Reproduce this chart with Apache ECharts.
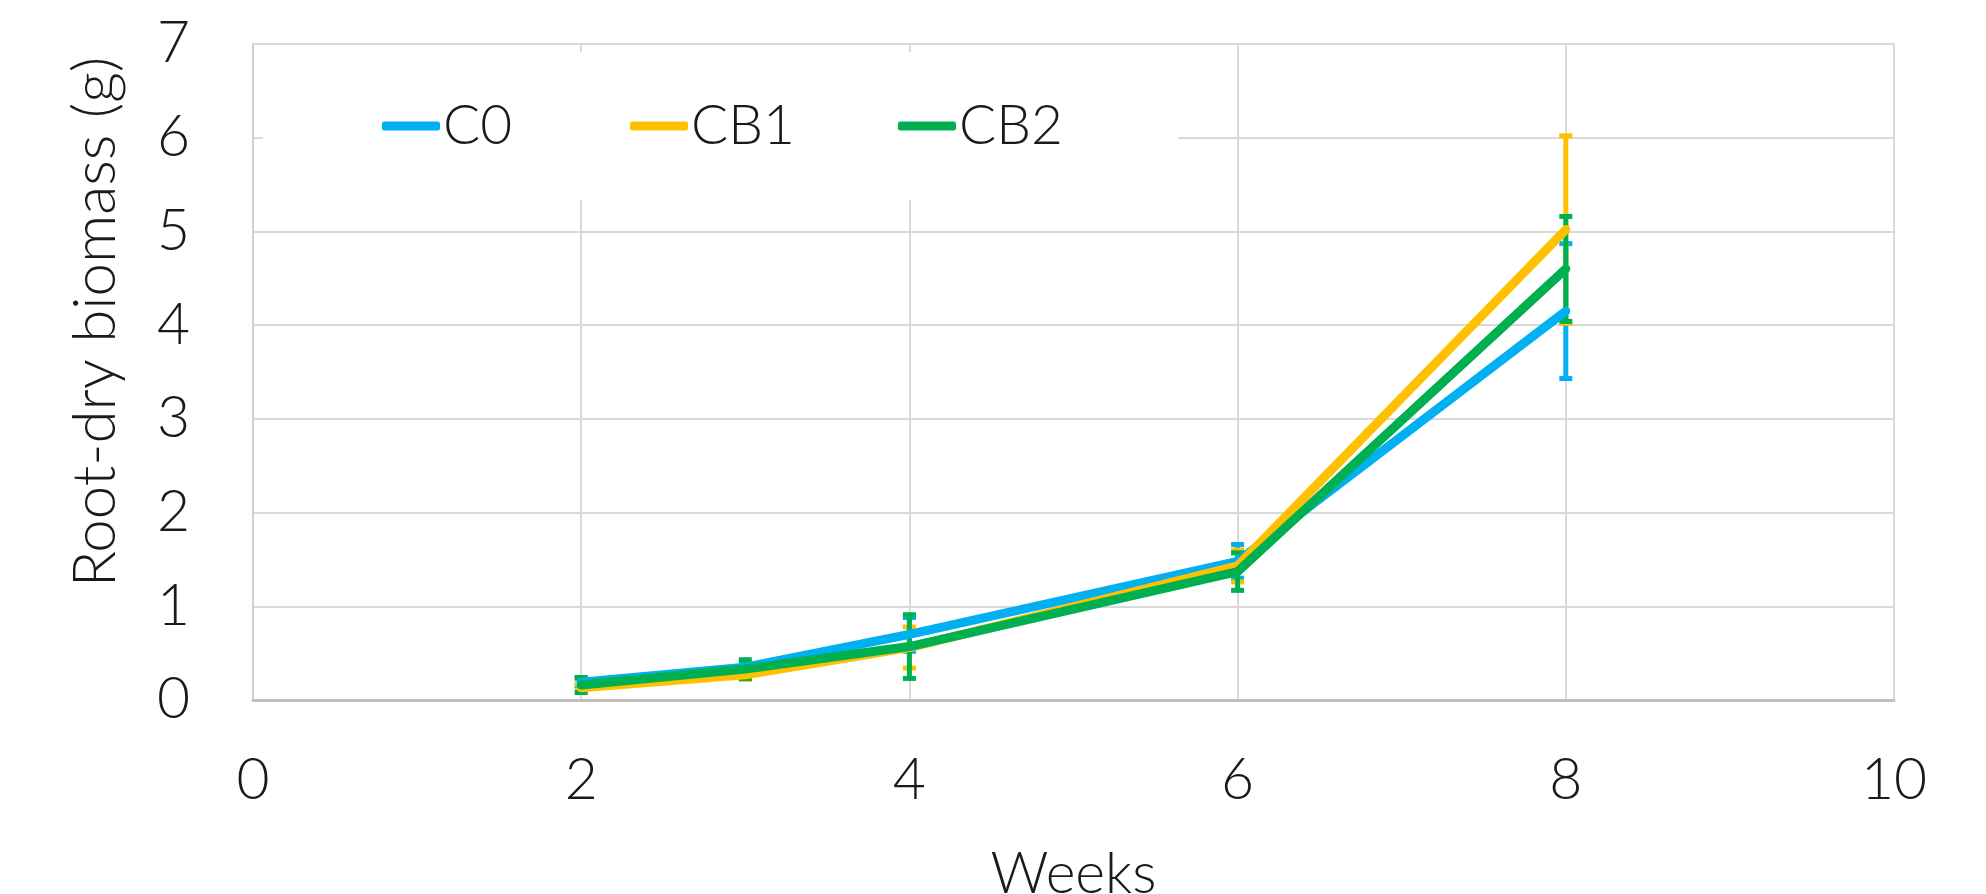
<!DOCTYPE html>
<html>
<head>
<meta charset="utf-8">
<title>Root-dry biomass</title>
<script src="https://cdn.jsdelivr.net/npm/echarts@6/dist/echarts.min.js"></script>
<style>
  html, body { margin: 0; padding: 0; background: #fff; }
  #chart { width: 1986px; height: 894px; }
</style>
</head>
<body>
<div id="chart"></div>
<script>
// Root dry biomass (g) per treatment, sampled at weeks 2, 3, 4, 6 and 8
const weeks = [2, 3, 4, 6, 8];
const seriesNames = ['C0', 'CB1', 'CB2'];
const c0 = [0.19, 0.35, 0.70, 1.48, 4.15];
const c0Err = [0.04, 0.05, 0.18, 0.18, 0.72];
const cb1 = [0.13, 0.27, 0.56, 1.43, 5.02];
const cb1Err = [0.04, 0.05, 0.22, 0.17, 1.00];
const cb2 = [0.16, 0.33, 0.57, 1.37, 4.60];
const cb2Err = [0.08, 0.10, 0.34, 0.20, 0.56];
const xTicks = [0, 2, 4, 6, 8, 10];
const yTicks = [0, 1, 2, 3, 4, 5, 6, 7];

const colors = ['#00B0F0', '#FFC000', '#00B050'];
const FONT = 'Lato, "Open Sans", sans-serif';
const TEXT = '#1a1a1a';

const means = [c0, cb1, cb2];
const errs = [c0Err, cb1Err, cb2Err];

// vertical error bar with caps, drawn in data coordinates
function errorBarRenderer(color) {
  return function (params, api) {
    const x = api.value(0);
    const lo = api.coord([x, api.value(1)]);
    const hi = api.coord([x, api.value(2)]);
    const half = 6.5;
    const style = { stroke: color, lineWidth: 5, fill: null };
    return {
      type: 'group',
      children: [
        { type: 'line', shape: { x1: lo[0], y1: lo[1], x2: hi[0], y2: hi[1] }, style },
        { type: 'line', shape: { x1: lo[0] - half, y1: lo[1], x2: lo[0] + half, y2: lo[1] }, style },
        { type: 'line', shape: { x1: hi[0] - half, y1: hi[1], x2: hi[0] + half, y2: hi[1] }, style }
      ]
    };
  };
}

const series = [];
seriesNames.forEach(function (name, i) {
  series.push({
    name: name + ' error',
    type: 'custom',
    renderItem: errorBarRenderer(colors[i]),
    encode: { x: 0, y: [1, 2] },
    data: weeks.map(function (w, k) {
      return [w, means[i][k] - errs[i][k], means[i][k] + errs[i][k]];
    }),
    silent: true,
    z: 2
  });
  series.push({
    name: name,
    type: 'line',
    color: colors[i],
    data: weeks.map(function (w, k) { return [w, means[i][k]]; }),
    showSymbol: false,
    symbol: 'none',
    lineStyle: { width: 9, color: colors[i], cap: 'round', join: 'round' },
    z: 2
  });
});

// one legend entry per treatment, laid out in a row
const legendLefts = [382, 630, 898];
const legends = seriesNames.map(function (name, i) {
  return {
    data: [name],
    left: legendLefts[i],
    top: 98,
    padding: 0,
    icon: 'roundRect',
    itemWidth: 58,
    itemHeight: 9,
    textStyle: { fontFamily: FONT, fontWeight: 300, fontSize: 55, color: TEXT, lineHeight: 56, padding: [0, 0, 0, -2] },
    z: 5
  };
});

const chart = echarts.init(document.getElementById('chart'), null, { renderer: 'canvas' });
chart.setOption({
  animation: false,
  backgroundColor: '#ffffff',
  grid: { left: 253, right: 92, top: 44, bottom: 194, containLabel: false, outerBoundsMode: 'none' },
  legend: legends,
  xAxis: {
    type: 'value',
    min: xTicks[0],
    max: xTicks[xTicks.length - 1],
    interval: 2,
    axisLine: { show: true, lineStyle: { color: '#bfbfbf', width: 3 } },
    axisTick: { show: false },
    splitLine: { show: true, lineStyle: { color: '#d9d9d9', width: 2 } },
    axisLabel: { fontFamily: FONT, fontWeight: 300, fontSize: 57, color: TEXT, margin: 52 },
    name: 'Weeks',
    nameLocation: 'middle',
    nameGap: 146,
    nameTextStyle: { fontFamily: FONT, fontWeight: 300, fontSize: 57, color: TEXT }
  },
  yAxis: {
    type: 'value',
    min: yTicks[0],
    max: yTicks[yTicks.length - 1],
    interval: 1,
    axisLine: { show: true, lineStyle: { color: '#d0d0d0', width: 2 } },
    axisTick: { show: false },
    splitLine: { show: true, lineStyle: { color: '#d9d9d9', width: 2 } },
    axisLabel: { fontFamily: FONT, fontWeight: 300, fontSize: 57, color: TEXT, margin: 63 }
  },
  graphic: [
    // white panel behind the legend row, hiding the gridlines there
    {
      type: 'rect',
      z: 1,
      shape: { x: 263, y: 52, width: 915, height: 148 },
      style: { fill: '#ffffff' },
      silent: true
    },
    {
      type: 'text',
      x: 96,
      y: 322,
      rotation: Math.PI / 2,
      style: {
        text: 'Root-dry biomass (g)',
        font: '300 60px ' + FONT,
        fill: TEXT,
        textAlign: 'center',
        textVerticalAlign: 'middle'
      }
    }
  ],
  series: series
});
</script>
</body>
</html>
